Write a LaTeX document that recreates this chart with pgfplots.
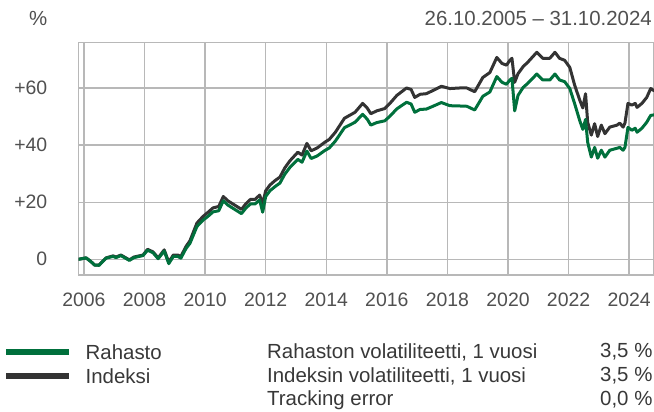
\documentclass[border=0pt]{standalone}
\usepackage{pgfplots}
\pgfplotsset{compat=1.18}
\usepackage{pgfplotstable}
\usepackage{fontspec}
\setmainfont{Liberation Sans}
\definecolor{fundgreen}{HTML}{00703C}
\definecolor{indexgray}{HTML}{333333}
\definecolor{gridgray}{HTML}{B8B8B8}
\definecolor{ticktext}{HTML}{505050}
\definecolor{legtext}{HTML}{383838}

\pgfplotstableread{
year idx fund
2005.82 0 0
2006.07 0.5 0.5
2006.23 -0.8 -0.8
2006.35 -2 -2
2006.5 -2 -2.1
2006.73 0.5 0.4
2006.96 1.2 1.0
2007.06 0.8 0.6
2007.22 1.5 1.3
2007.5 -0.2 -0.4
2007.65 0.8 0.6
2007.95 1.5 1.3
2008.1 3.5 3.2
2008.28 2.6 2.3
2008.45 0.5 0.2
2008.65 3.3 2.9
2008.8 -1.0 -1.5
2008.95 1.5 1.0
2009.1 1.5 1.0
2009.2 1.0 0.4
2009.37 4.5 3.8
2009.5 6.5 5.6
2009.73 12.7 11.5
2009.93 15 13.7
2010.1 16.5 15.1
2010.26 18 16.6
2010.45 18.5 17.0
2010.6 22 20.5
2010.75 20.5 19.0
2011.05 18.5 17.0
2011.2 17.5 16.0
2011.35 19.5 18.0
2011.5 21 19.4
2011.65 21 19.4
2011.8 22.5 20.8
2011.9 19.5 16.5
2012.0 24 22
2012.14 26 24
2012.3 27.5 25.4
2012.47 28.8 26.7
2012.63 32 29.8
2012.8 34.5 32.2
2013.06 37.5 35.0
2013.2 36.5 34.0
2013.36 40.6 37.9
2013.5 38 35.3
2013.7 39 36.2
2013.95 41 38.1
2014.1 42 39.0
2014.3 44.5 41.4
2014.6 49.4 46.1
2014.95 51.5 48.0
2015.2 54.6 50.8
2015.35 53 49.1
2015.47 51 47.0
2015.67 52 47.9
2015.93 52.8 48.5
2016.1 54.6 50.1
2016.33 57.4 52.7
2016.65 60 55.0
2016.8 59.5 54.4
2016.92 56.7 51.5
2017.1 57.8 52.5
2017.3 58 52.6
2017.5 59 53.5
2017.8 60.6 54.9
2018.08 59.8 53.8
2018.4 60 53.7
2018.64 60 53.6
2018.9 58.7 52.3
2019.17 63.7 57.1
2019.4 65.4 58.6
2019.63 70.7 64.0
2019.8 68.6 62.0
2019.95 68 61.3
2020.06 69.7 62.8
2020.13 70.4 63.4
2020.22 62 52
2020.33 65 57.4
2020.5 67.5 60.2
2020.65 69 61.6
2020.95 72.5 64.9
2021.15 70.4 62.8
2021.38 70.4 62.8
2021.55 72.5 64.9
2021.7 70.4 62.8
2021.87 69.7 62.2
2022.04 67.2 59.8
2022.2 61 54.5
2022.37 55.7 48.5
2022.47 53 45.5
2022.56 58 49
2022.63 48 41
2022.75 43.5 35.8
2022.86 47.5 39.2
2022.96 43 35.4
2023.08 47 38.2
2023.2 44 35.8
2023.36 46.3 38.2
2023.6 47 38.9
2023.69 47.7 39.2
2023.8 46.3 38.2
2023.86 47.7 39.2
2023.96 54.6 46.2
2024.09 54 45.2
2024.2 54.6 45.9
2024.26 53.2 44.5
2024.42 54.6 45.9
2024.58 56.7 48
2024.71 59.8 50.4
2024.83 59 50.6
}\perfdata

\begin{document}
\begin{tikzpicture}[x=1bp,y=1bp]
\path[use as bounding box] (0,0) rectangle (654,-411);
\begin{axis}[
  at={(78.5bp,-42.3bp)}, anchor=north west,
  scale only axis, width=575.5bp, height=232.7bp,
  xmin=2005.82, xmax=2024.82,
  ymin=-5.5, ymax=76,
  xtick={2006,2008,...,2024},
  xticklabels={2006,2008,2010,2012,2014,2016,2018,2020,2022,2024},
  ytick={0,20,40,60},
  yticklabels={0,+20,+40,+60},
  major tick length=0pt,
  grid=major,
  grid style={gridgray, line width=1.4bp},
  axis line style={gridgray, line width=1.4bp},
  tick style={draw=none},
  xticklabel style={anchor=center, yshift=-25bp, inner sep=0pt, font=\fontsize{19.5}{22}\selectfont, text=ticktext},
  yticklabel style={anchor=east, xshift=-31bp, inner sep=0pt, font=\fontsize{19.5}{22}\selectfont, text=ticktext},
  clip=true,
]
\addplot[indexgray, line width=3bp, line join=round] table[x=year, y=idx] {\perfdata};
\addplot[fundgreen, line width=3bp, line join=round] table[x=year, y=fund] {\perfdata};
\end{axis}
\begin{scope}[every node/.style={inner sep=0pt, font=\fontsize{20.5}{24}\selectfont, text=legtext}]
\node[anchor=west, text=ticktext] at (29,-18) {\%};
\node[anchor=east, text=ticktext] at (652,-18) {26.10.2005 – 31.10.2024};
\draw[fundgreen, line width=6.5bp] (6,-352) -- (69,-352);
\draw[indexgray, line width=6.5bp] (6,-376) -- (69,-376);
\node[anchor=west] at (85.5,-352) {Rahasto};
\node[anchor=west] at (85.5,-376) {Indeksi};
\node[anchor=west] at (267,-352) {Rahaston volatiliteetti, 1 vuosi};
\node[anchor=west] at (267,-376) {Indeksin volatiliteetti, 1 vuosi};
\node[anchor=west] at (267,-400) {Tracking error};
\node[anchor=west] at (600,-352) {3,5 \%};
\node[anchor=west] at (600,-376) {3,5 \%};
\node[anchor=west] at (600,-400) {0,0 \%};
\end{scope}
\end{tikzpicture}
\end{document}
